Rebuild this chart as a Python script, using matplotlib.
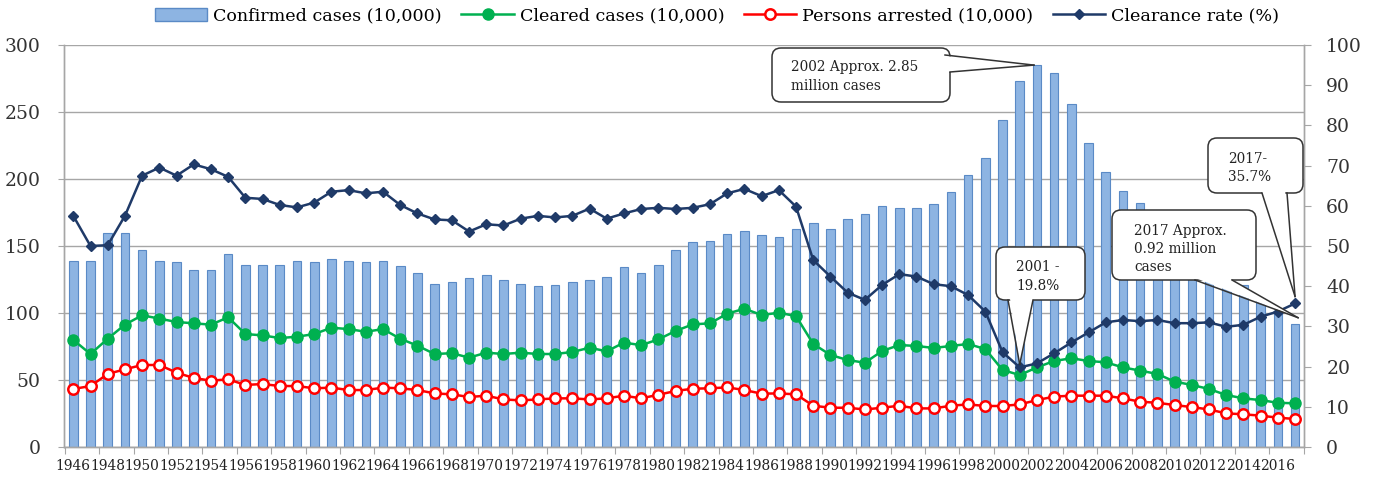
import numpy as np
import matplotlib
matplotlib.use("Agg")
import matplotlib.pyplot as plt
import matplotlib.transforms as mtransforms
from matplotlib.patches import FancyBboxPatch, Polygon, Patch
from matplotlib.lines import Line2D

years = list(range(1946, 2018))
confirmed = [139, 139, 160, 160, 147, 139, 138, 132, 132, 144,
             136, 136, 136, 139, 138, 140.5, 139, 138, 139, 135,
             130, 122, 123, 126, 128, 125, 122, 120, 121, 123,
             125, 127, 134, 130, 136, 147, 153, 153.5, 159, 161,
             158, 157, 163, 167, 163, 170, 174, 180, 178, 178,
             181, 190, 203, 216, 244, 273, 285, 279, 256, 227,
             205, 191, 182, 170, 159, 148, 138, 131, 121, 110,
             100, 92]
cleared = [79.9, 69.4, 80.8, 91.3, 98.3, 95.8, 93.3, 92.3, 91.3, 96.8,
           84.3, 83.3, 81.3, 82.3, 84.3, 89, 88, 86, 88, 80.8,
           75.6, 69.4, 70, 66.7, 70.4, 69.4, 70.4, 69.4, 69.4, 70.9,
           74.1, 71.4, 77.9, 76, 80.3, 86.6, 91.5, 92.3, 99.5, 103.2,
           98.5, 100.2, 97.7, 76.9, 68.7, 64.9, 62.9, 71.6, 76.1, 75.4,
           73.9, 75.4, 76.9, 73.1, 57.5, 53.7, 59.4, 64.2, 66.2, 64.2,
           63.2, 59.4, 57, 54.5, 48.8, 46.3, 43.3, 38.8, 36.3, 35,
           33, 32.6]
arrested = [43.3, 45.5, 54.5, 58, 61.2, 61.2, 55.5, 51.5, 49.5, 50.5,
            46.3, 47, 45.5, 45.5, 43.8, 44.3, 42.5, 42.5, 44.3, 43.8,
            42.5, 40, 39.3, 37.3, 38.3, 35.5, 34.8, 35.5, 36.3, 36.3,
            35.5, 36.3, 38.3, 36.3, 39, 41.8, 43.5, 43.8, 44.5, 42.5,
            39.8, 40, 39.3, 30.8, 29.3, 29.3, 28, 29.3, 30.8, 28.8,
            28.8, 30.8, 31.8, 30.6, 30.6, 31.8, 35, 37.6, 38.3, 38.3,
            38.3, 36.3, 33.8, 33, 31.3, 29.8, 28, 25.1, 24.4, 23.4,
            21.9, 20.9]
rate = [57.5, 50, 50.2, 57.5, 67.5, 69.5, 67.5, 70.3, 69.1, 67.2,
        62, 61.7, 60.2, 59.6, 60.8, 63.5, 63.9, 63.1, 63.5, 60.2,
        58.1, 56.6, 56.4, 53.6, 55.4, 55.1, 56.8, 57.5, 57.1, 57.5,
        59.3, 56.8, 58.1, 59.2, 59.5, 59.2, 59.5, 60.4, 63.1, 64.2,
        62.4, 63.9, 59.8, 46.5, 42.4, 38.4, 36.6, 40.3, 43, 42.4,
        40.5, 40, 37.8, 33.7, 23.6, 19.8, 20.8, 23.3, 26, 28.5,
        31, 31.6, 31.3, 31.6, 30.8, 30.8, 31, 29.9, 30.4, 32.4,
        33.7, 35.7]

labels = ["Confirmed cases (10,000)", "Cleared cases (10,000)",
          "Persons arrested (10,000)", "Clearance rate (%)"]

W, H = 1373, 478
SERIF = ["DejaVu Serif"]
plt.rcParams["font.family"] = SERIF

fig = plt.figure(figsize=(W / 100, H / 100), dpi=100)
ax = fig.add_axes([64 / W, 1 - 447 / H, (1304 - 64) / W, (447 - 45) / H])
ax2 = ax.twinx()

x = np.arange(len(years))
GRID = "#A6A6A6"

ax.set_axisbelow(True)
ax.yaxis.grid(True, color=GRID, linewidth=1.0)
bars = ax.bar(x, confirmed, width=0.5, color="#8DB4E2", edgecolor="#5A8AC6",
              linewidth=0.8, zorder=2, label=labels[0])
l1, = ax.plot(x, cleared, color="#00B050", linewidth=1.8, marker="o",
              markersize=8, markerfacecolor="#00B050", markeredgecolor="#00B050",
              zorder=3, label=labels[1])
l2, = ax.plot(x, arrested, color="#FF0000", linewidth=1.8, marker="o",
              markersize=7.5, markerfacecolor="white", markeredgecolor="#FF0000",
              markeredgewidth=1.8, zorder=4, label=labels[2])
l3, = ax2.plot(x, rate, color="#1F3A68", linewidth=1.8, marker="D",
               markersize=5, zorder=3, label=labels[3])

ax.set_xlim(-0.54, len(years) - 0.48)
ax.set_ylim(0, 300)
ax2.set_ylim(0, 100)
ax.set_yticks(np.arange(0, 301, 50))
ax2.set_yticks(np.arange(0, 101, 10))

for a in (ax, ax2):
    a.spines["top"].set_visible(False)
    for s in ("left", "right", "bottom"):
        a.spines[s].set_color(GRID)
        a.spines[s].set_linewidth(1.0)

ax.tick_params(axis="y", length=4, color=GRID, pad=13, labelsize=13.5,
               labelcolor="#333333")
ax2.tick_params(axis="y", length=5, color=GRID, pad=11, labelsize=13.5,
                labelcolor="#333333")

ax.set_xticks(np.arange(-0.5, len(years), 2))
ax.set_xticklabels([])
ax.set_xticks(x[::2], minor=True)
ax.set_xticklabels([str(y) for y in years[::2]], minor=True)
ax.tick_params(axis="x", which="major", length=5, color=GRID)
ax.tick_params(axis="x", which="minor", length=0, pad=9, labelsize=9.9,
               labelcolor="#222222")

# legend
handles = [Patch(facecolor="#8DB4E2", edgecolor="#5A8AC6"), l1, l2, l3]
fig.legend(handles, labels, loc="center", bbox_to_anchor=(717 / W, 1 - 16 / H),
           ncol=4, frameon=False, fontsize=12.6, handlelength=3.0,
           columnspacing=1.1, handletextpad=0.35)

# callouts in image pixel coordinates
px = mtransforms.Affine2D().scale(1 / W, -1 / H).translate(0, 1) + fig.transFigure
fig.canvas.draw()


def tip_of(i, v, axis, dy=0.0, dx=0.0):
    d = axis.transData.transform((i, v))
    return (d[0] + dx, H - d[1] + dy)


def callout(box, base, tip, lines, text_xy, lh):
    x0, y0, x1, y1 = box
    fig.add_artist(FancyBboxPatch((x0, y0), x1 - x0, y1 - y0,
                                  boxstyle="round,pad=0,rounding_size=9",
                                  transform=px, facecolor="white",
                                  edgecolor="#333333", linewidth=1.1, zorder=10))
    cx, cy = (x0 + x1) / 2, (y0 + y1) / 2

    def inward(p):
        vx, vy = cx - p[0], cy - p[1]
        n = np.hypot(vx, vy)
        return (p[0] + 2.5 * vx / n, p[1] + 2.5 * vy / n)
    fig.add_artist(Polygon([inward(base[0]), tip, inward(base[1])],
                           closed=True, transform=px, facecolor="white",
                           edgecolor="none", zorder=11))
    for b in base:
        fig.add_artist(Line2D([b[0], tip[0]], [b[1], tip[1]], transform=px,
                              color="#333333", linewidth=1.1, zorder=12))
    for k, t in enumerate(lines):
        fig.text(text_xy[0], text_xy[1] + k * lh, t, transform=px, fontsize=9.8,
                 ha="left", va="center", color="#222222", zorder=13,
                 family=SERIF)


i02 = years.index(2002)
i01 = years.index(2001)
i17 = years.index(2017)

callout((772, 48, 950, 102), [(945, 55), (950, 72)],
        tip_of(i02, confirmed[i02], ax, dx=-3),
        ["2002 Approx. 2.85", "million cases"], (791, 67), 19)
callout((996, 247, 1085, 300), [(1008, 300), (1033, 300)],
        tip_of(i01, rate[i01], ax2, dy=-3),
        ["2001 -", "19.8%"], (1016, 267), 19)
callout((1112, 210, 1256, 280), [(1195, 280), (1232, 280)],
        tip_of(i17, confirmed[i17], ax, dy=-6, dx=3),
        ["2017 Approx.", "0.92 million", "cases"], (1134, 231), 18)
callout((1208, 138, 1303, 193), [(1262, 193), (1287, 193)],
        tip_of(i17, rate[i17], ax2, dy=-7),
        ["2017-", "35.7%"], (1228, 159), 18)

fig.savefig("out.png", dpi=100)
